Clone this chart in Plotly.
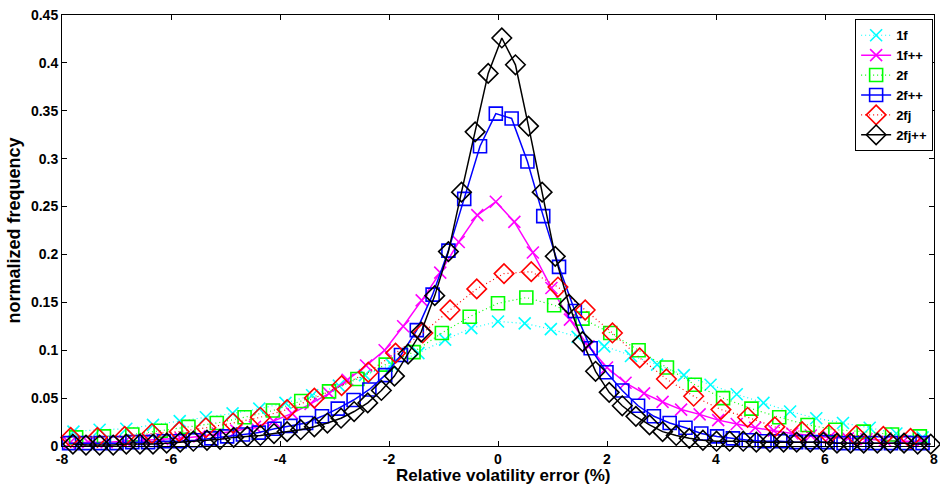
import plotly.graph_objects as go

# Histogram bin centres (relative volatility error, %) for each estimator
x_1f = [-7.79, -7.31, -6.82, -6.33, -5.84, -5.36, -4.87, -4.38, -3.90, -3.41, -2.92,
        -2.44, -1.95, -1.46, -0.97, -0.49, 0.00, 0.49, 0.97, 1.46, 1.95, 2.44, 2.92,
        3.41, 3.90, 4.38, 4.87, 5.36, 5.84, 6.33, 6.82, 7.31, 7.79]
x_1fpp = [-7.86, -7.52, -7.18, -6.84, -6.50, -6.16, -5.82, -5.48, -5.14, -4.80, -4.46,
          -4.12, -3.78, -3.44, -3.10, -2.76, -2.42, -2.08, -1.74, -1.40, -1.06, -0.72,
          -0.38, -0.04, 0.30, 0.64, 0.98, 1.32, 1.66, 2.00, 2.34, 2.68, 3.02, 3.36, 3.70,
          4.04, 4.38, 4.72, 5.06, 5.40, 5.74, 6.08, 6.42, 6.76, 7.10, 7.44, 7.78]
x_2f = [-7.74, -7.23, -6.71, -6.19, -5.68, -5.16, -4.65, -4.13, -3.61, -3.10, -2.58,
        -2.06, -1.55, -1.03, -0.52, 0.00, 0.52, 1.03, 1.55, 2.06, 2.58, 3.10, 3.61,
        4.13, 4.65, 5.16, 5.68, 6.19, 6.71, 7.23, 7.74]
x_2fpp = [-7.87, -7.58, -7.29, -7.00, -6.71, -6.42, -6.13, -5.84, -5.55, -5.26, -4.97,
          -4.68, -4.39, -4.10, -3.81, -3.52, -3.23, -2.94, -2.65, -2.36, -2.07, -1.78,
          -1.49, -1.20, -0.91, -0.62, -0.33, -0.04, 0.25, 0.54, 0.83, 1.12, 1.41, 1.70,
          1.99, 2.28, 2.57, 2.86, 3.15, 3.44, 3.73, 4.02, 4.31, 4.60, 4.89, 5.18, 5.47,
          5.76, 6.05, 6.34, 6.63, 6.92, 7.21, 7.50, 7.79]
x_2fj = [-7.84, -7.35, -6.85, -6.35, -5.85, -5.36, -4.86, -4.36, -3.87, -3.37, -2.87,
         -2.38, -1.88, -1.38, -0.88, -0.39, 0.11, 0.61, 1.10, 1.60, 2.10, 2.60, 3.09,
         3.59, 4.09, 4.58, 5.08, 5.58, 6.07, 6.57, 7.07, 7.57]
x_2fjpp = [-7.80, -7.56, -7.31, -7.06, -6.82, -6.57, -6.33, -6.08, -5.83, -5.59, -5.34,
           -5.10, -4.85, -4.60, -4.36, -4.11, -3.87, -3.62, -3.37, -3.13, -2.88, -2.64,
           -2.39, -2.14, -1.90, -1.65, -1.41, -1.16, -0.91, -0.67, -0.42, -0.18, 0.07,
           0.32, 0.56, 0.81, 1.05, 1.30, 1.55, 1.79, 2.04, 2.28, 2.53, 2.78, 3.02, 3.27,
           3.51, 3.76, 4.01, 4.25, 4.50, 4.74, 4.99, 5.24, 5.48, 5.73, 5.97, 6.22, 6.47,
           6.71, 6.96, 7.20, 7.45, 7.70, 7.94]

# Normalized frequencies
y_1f = [0.015, 0.017, 0.018, 0.022, 0.026, 0.030, 0.034, 0.039, 0.045, 0.053, 0.063,
        0.074, 0.085, 0.097, 0.111, 0.123, 0.130, 0.128, 0.122, 0.114, 0.104, 0.094,
        0.085, 0.074, 0.064, 0.054, 0.045, 0.036, 0.029, 0.024, 0.019, 0.013, 0.009]
y_1fpp = [0.003, 0.004, 0.004, 0.005, 0.006, 0.007, 0.008, 0.010, 0.013, 0.016, 0.020,
          0.026, 0.034, 0.044, 0.055, 0.069, 0.084, 0.100, 0.125, 0.152, 0.181, 0.213,
          0.241, 0.255, 0.234, 0.202, 0.165, 0.132, 0.104, 0.082, 0.066, 0.055, 0.046,
          0.038, 0.033, 0.027, 0.023, 0.019, 0.016, 0.013, 0.011, 0.009, 0.008, 0.007,
          0.006, 0.005, 0.005]
y_2f = [0.009, 0.010, 0.012, 0.016, 0.020, 0.024, 0.030, 0.037, 0.047, 0.057, 0.070,
        0.085, 0.098, 0.118, 0.135, 0.149, 0.155, 0.147, 0.133, 0.118, 0.100, 0.082,
        0.064, 0.050, 0.039, 0.030, 0.022, 0.017, 0.015, 0.012, 0.010]
y_2fpp = [0.003, 0.003, 0.003, 0.003, 0.004, 0.004, 0.005, 0.005, 0.006, 0.008, 0.010,
          0.012, 0.014, 0.018, 0.021, 0.024, 0.031, 0.039, 0.048, 0.059, 0.074, 0.095,
          0.121, 0.158, 0.204, 0.258, 0.313, 0.347, 0.342, 0.297, 0.240, 0.187, 0.141,
          0.102, 0.077, 0.058, 0.042, 0.031, 0.024, 0.019, 0.013, 0.010, 0.008, 0.006,
          0.005, 0.005, 0.004, 0.004, 0.004, 0.003, 0.003, 0.003, 0.003, 0.003, 0.003]
y_2fj = [0.009, 0.009, 0.010, 0.013, 0.015, 0.019, 0.024, 0.030, 0.038, 0.050, 0.063,
         0.077, 0.097, 0.118, 0.142, 0.164, 0.180, 0.182, 0.166, 0.142, 0.118, 0.092,
         0.070, 0.052, 0.038, 0.030, 0.020, 0.015, 0.012, 0.011, 0.010, 0.008]
y_2fjpp = [0.002, 0.001, 0.001, 0.001, 0.002, 0.002, 0.002, 0.003, 0.004, 0.005, 0.006,
           0.007, 0.009, 0.010, 0.011, 0.013, 0.015, 0.017, 0.020, 0.024, 0.029, 0.036,
           0.045, 0.058, 0.073, 0.096, 0.119, 0.157, 0.203, 0.265, 0.328, 0.389, 0.426,
           0.398, 0.334, 0.265, 0.198, 0.148, 0.109, 0.078, 0.056, 0.042, 0.031, 0.022,
           0.015, 0.011, 0.008, 0.006, 0.005, 0.005, 0.005, 0.004, 0.004, 0.004, 0.004,
           0.004, 0.004, 0.003, 0.003, 0.003, 0.003, 0.003, 0.003, 0.002, 0.002]

x_ticks = [-8, -6, -4, -2, 0, 2, 4, 6, 8]
y_ticks = [0, 0.05, 0.1, 0.15, 0.2, 0.25, 0.3, 0.35, 0.4, 0.45]
y_tick_text = ["0", "0.05", "0.1", "0.15", "0.2", "0.25", "0.3", "0.35", "0.4", "0.45"]

series = [
    ("1f", x_1f, y_1f, "#00FFFF", "dot", "x-thin", 12),
    ("1f++", x_1fpp, y_1fpp, "#FF00FF", "solid", "x-thin", 12),
    ("2f", x_2f, y_2f, "#00FF00", "dot", "square-open", 13),
    ("2f++", x_2fpp, y_2fpp, "#0000FF", "solid", "square-open", 13),
    ("2fj", x_2fj, y_2fj, "#FF0000", "dot", "diamond-open", 15),
    ("2fj++", x_2fjpp, y_2fjpp, "#000000", "solid", "diamond-open", 15),
]

fig = go.Figure()
for name, xs, ys, color, style, symbol, size in series:
    if style == "solid":
        line = dict(color=color, width=1.5, dash="solid")
    else:
        line = dict(color=color, width=1.2, dash="1px,3px")
    fig.add_trace(go.Scatter(
        x=xs, y=ys, name=name, mode="lines+markers",
        line=line,
        marker=dict(symbol=symbol, size=size, color=color,
                    line=dict(color=color, width=1.6)),
        cliponaxis=False,
    ))

font_family = "Liberation Sans, Arial, sans-serif"
axis_common = dict(
    showline=True, linecolor="black", linewidth=1, mirror="ticks",
    ticks="inside", ticklen=5, tickcolor="black", tickwidth=1,
    showgrid=False, zeroline=False, ticklabeloverflow="allow",
    tickfont=dict(family=font_family, size=14, color="black", weight="bold"),
)

fig.update_layout(
    width=940, height=486,
    margin=dict(l=62, r=2, t=15, b=40),
    paper_bgcolor="white", plot_bgcolor="white",
    font=dict(family=font_family, color="black"),
    xaxis=dict(range=[-8, 8], tickvals=x_ticks, ticktext=[str(v) for v in x_ticks],
               **axis_common),
    yaxis=dict(range=[0, 0.45], tickvals=y_ticks, ticktext=y_tick_text,
               title=dict(text="normalized frequency", standoff=5,
                          font=dict(family=font_family, size=18, color="black", weight="bold")),
               **axis_common),
    legend=dict(
        x=0.999, xanchor="right", y=0.99, yanchor="top",
        bgcolor="white", bordercolor="black", borderwidth=1,
        font=dict(family=font_family, size=13, color="black", weight="bold"),
        itemwidth=30, tracegroupgap=0,
    ),
    showlegend=True,
)

# x-axis label placed as an annotation below the tick labels
fig.add_annotation(
    text="Relative volatility error (%)", xref="paper", yref="paper",
    x=0.506, y=0, xanchor="center", yanchor="middle", yshift=-29,
    showarrow=False, borderpad=0,
    font=dict(family=font_family, size=17, color="black", weight="bold"),
)

fig.write_html("out.html")
